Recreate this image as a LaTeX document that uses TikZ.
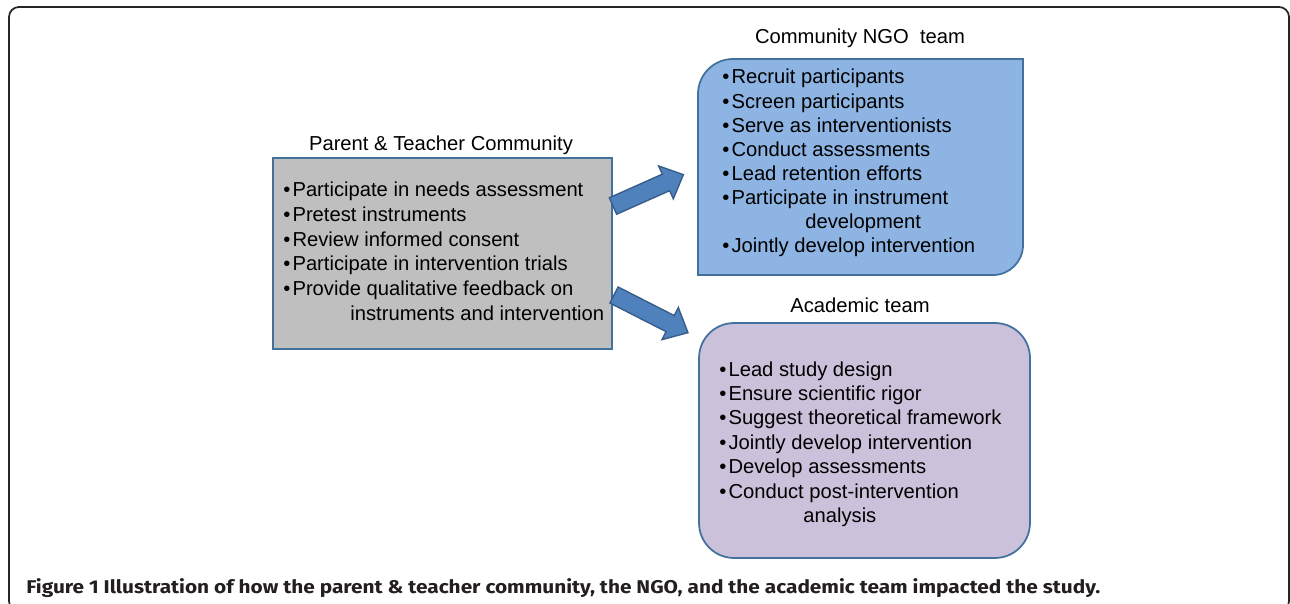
\documentclass[tikz,border=0pt]{standalone}
\usepackage{fontspec}
\setmainfont{Liberation Sans}
\newfontfamily\capfont{Fira Sans}
\usetikzlibrary{positioning}
\definecolor{boxline}{HTML}{41719C}
\definecolor{grayfill}{HTML}{BFBFBF}
\definecolor{ngofill}{HTML}{8DB4E2}
\definecolor{acadfill}{HTML}{CCC1DA}
\definecolor{arrowfill}{HTML}{4F81BD}
\definecolor{arrowline}{HTML}{385D8A}
\definecolor{capgray}{HTML}{231F20}
\newcommand{\bul}{\textbullet\hspace{1.2pt}}

\begin{document}
\begin{tikzpicture}[
        x=0.02cm, y=-0.02cm,
        every node/.style={font=\fontsize{11.5}{13.8}\selectfont, inner sep=0pt},
        item/.style={anchor=base west},
        head/.style={anchor=base},
        box/.style={draw=boxline, line width=1pt},
        bigarrow/.style={fill=arrowfill, draw=arrowline, line width=0.8pt}
    ]
    \useasboundingbox (0,0) rectangle (1290,604);
    \clip (0,0) rectangle (1290,604);
    % outer frame
    \draw[line width=1pt, black!85, rounded corners=0.2cm] (9,7) rectangle (1289,611);

    % parent & teacher community
    \node[box, fill=grayfill, minimum width=6.78cm, minimum height=3.82cm] (ptc) at (442.5,253.5) {};
    \node[head] (ptct) at (441,151) {Parent \& Teacher Community};
    \foreach \t [count=\i] in {Participate in needs assessment, Pretest instruments,
        Review informed consent, Participate in intervention trials, Provide qualitative feedback on}
        \node[item] (p\i) at (283,{197+24.6*(\i-1)}) {\bul\t};
    \node[item] (p6) at (350,320) {instruments and intervention};

    % community NGO team
    \draw[box, fill=ngofill] (698,275) -- (698,160) [rounded corners=0.7cm] -- (698,59) -- (860,59)
        [sharp corners] -- (1023,59) -- (1023,160) [rounded corners=0.6cm] -- (1023,275) -- (860,275)
        [sharp corners] -- cycle;
    \node[head] (ngot) at (860,44) {Community NGO\ \ team};
    \foreach \t [count=\i] in {Recruit participants, Screen participants, Serve as interventionists,
        Conduct assessments, Lead retention efforts, Participate in instrument}
        \node[item] (n\i) at (722,{84+24.2*(\i-1)}) {\bul\t};
    \node[item] (n7) at (805,229) {development};
    \node[item] (n8) at (722,253) {\bul Jointly develop intervention};

    % academic team
    \node[box, fill=acadfill, rounded corners=0.7cm, minimum width=6.62cm, minimum height=4.7cm] (acad) at (864.5,440.5) {};
    \node[head] (acadt) at (860,313) {Academic team};
    \foreach \t [count=\i] in {Lead study design, Ensure scientific rigor, Suggest theoretical framework,
        Jointly develop intervention, Develop assessments, Conduct post-intervention}
        \node[item] (a\i) at (719,{376+24.4*(\i-1)}) {\bul\t};
    \node[item] (a7) at (803,522) {analysis};

    % block arrows
    \begin{scope}[shift={(613,206)}, rotate=24]
        \draw[bigarrow] (0,-9) -- (58,-9) -- (58,-18) -- (77,0) -- (58,18) -- (58,9) -- (0,9) -- cycle;
    \end{scope}
    \begin{scope}[shift={(614,295)}, rotate=-27]
        \draw[bigarrow] (0,-9) -- (63,-9) -- (63,-18) -- (83,0) -- (63,18) -- (63,9) -- (0,9) -- cycle;
    \end{scope}

    % caption
    \node[item, font=\capfont\bfseries\fontsize{10.5}{12}\selectfont, text=capgray] (cap) at (26,593)
        {\resizebox{21.48cm}{\height}{Figure 1 Illustration of how the parent \& teacher community, the NGO, and the academic team impacted the study.}};
\end{tikzpicture}
\end{document}
